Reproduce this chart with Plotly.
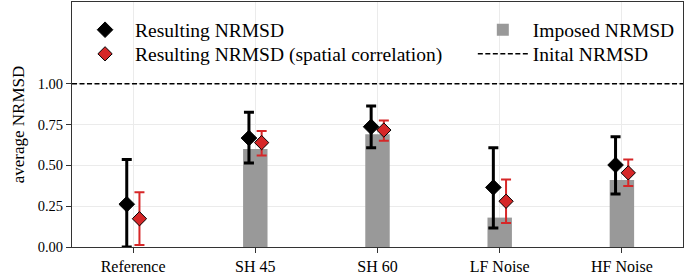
import plotly.graph_objects as go

categories = ["Reference", "SH 45", "SH 60", "LF Noise", "HF Noise"]
imposed = [0.0, 0.60, 0.69, 0.18, 0.41]
res_mean = [0.262, 0.667, 0.736, 0.365, 0.502]
res_upper = [0.536, 0.825, 0.863, 0.607, 0.675]
res_lower = [0.0, 0.514, 0.607, 0.117, 0.324]
sc_mean = [0.173, 0.639, 0.716, 0.280, 0.454]
sc_upper = [0.335, 0.710, 0.774, 0.413, 0.536]
sc_lower = [0.012, 0.560, 0.651, 0.147, 0.373]
initial_nrmsd = 1.0
y_ticks = [0.0, 0.25, 0.5, 0.75, 1.0]

FONT = "Liberation Serif, Times New Roman, serif"
RED = "#d62728"
idx = list(range(len(categories)))
off = 0.052

fig = go.Figure()
fig.add_trace(go.Bar(
    x=idx, y=imposed, width=0.2, name="Imposed NRMSD",
    marker=dict(color="#999999", line=dict(width=0)),
    legend="legend3",
))
fig.add_trace(go.Scatter(
    x=[i - off for i in idx], y=res_mean, mode="markers", name="Resulting NRMSD",
    marker=dict(symbol="diamond", size=12, color="black", line=dict(color="black", width=1)),
    error_y=dict(type="data", symmetric=False,
                 array=[u - m for u, m in zip(res_upper, res_mean)],
                 arrayminus=[m - l for m, l in zip(res_mean, res_lower)],
                 color="black", thickness=3, width=5),
    legend="legend",
))
fig.add_trace(go.Scatter(
    x=[i + off for i in idx], y=sc_mean, mode="markers",
    name="Resulting NRMSD (spatial correlation)",
    marker=dict(symbol="diamond", size=11, color=RED, line=dict(color="black", width=1)),
    error_y=dict(type="data", symmetric=False,
                 array=[u - m for u, m in zip(sc_upper, sc_mean)],
                 arrayminus=[m - l for m, l in zip(sc_mean, sc_lower)],
                 color=RED, thickness=2, width=5),
    legend="legend2",
))

fig.add_shape(type="line", xref="paper", x0=0, x1=1, yref="y",
              y0=initial_nrmsd, y1=initial_nrmsd,
              line=dict(color="black", dash="5px,2.5px", width=1.5),
              showlegend=True, name="Inital NRMSD", legend="legend4")

axis_common = dict(
    showline=True, linecolor="#333333", linewidth=1.2, mirror=True,
    ticks="outside", ticklen=5, tickcolor="#333333", tickwidth=1.2,
    showgrid=True, gridcolor="#ebebeb", gridwidth=1, zeroline=False,
)

PLOT_TOP, PLOT_BOTTOM = 1, 250
def ypos(pix):
    return (PLOT_BOTTOM - pix) / (PLOT_BOTTOM - PLOT_TOP)

leg_common = dict(xanchor="left", yanchor="middle", bgcolor="rgba(0,0,0,0)",
                  font=dict(family=FONT, size=19.5, color="black"),
                  tracegroupgap=0, itemwidth=50, borderwidth=0)

fig.update_layout(
    width=685, height=276,
    margin=dict(l=72, r=1, t=PLOT_TOP, b=276 - PLOT_BOTTOM),
    paper_bgcolor="white", plot_bgcolor="white",
    font=dict(family=FONT, color="black"),
    xaxis=dict(range=[-0.5, 4.5], tickvals=idx, ticktext=categories,
               tickfont=dict(family=FONT, size=16, color="black"), **axis_common),
    yaxis=dict(range=[0, 1.5], tickvals=y_ticks, tickformat=".2f",
               tickfont=dict(family=FONT, size=14.5, color="black"),
               title=dict(text="average NRMSD", font=dict(family=FONT, size=17), standoff=8),
               **axis_common),
    legend=dict(x=0.005, y=ypos(29.5), **leg_common),
    legend2=dict(x=0.005, y=ypos(54), **leg_common),
    legend3=dict(x=0.656, y=ypos(29.5), **leg_common),
    legend4=dict(x=0.656, y=ypos(54), **leg_common),
    showlegend=True,
)

fig.write_html("out.html", config={"displayModeBar": False},
               post_script="document.body.style.margin='0';")
